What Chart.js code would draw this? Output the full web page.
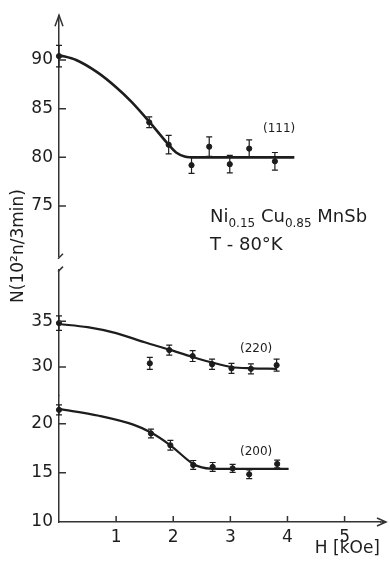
<!DOCTYPE html>
<html>
<head>
<meta charset="utf-8">
<script src="https://cdn.jsdelivr.net/npm/chart.js@4"></script>
<style>
html, body { margin: 0; padding: 0; background: #fff; }
#wrap { width: 390px; height: 561px; }
</style>
</head>
<body>
<div id="wrap"><canvas id="myChart"></canvas></div>
<script>
// field values H [kOe], counts N, error bars - (111) reflection
var h111 = [0, 1.58, 1.92, 2.32, 2.63, 2.99, 3.33, 3.78];
var n111 = [90.4, 83.6, 81.3, 79.2, 81.1, 79.3, 80.9, 79.6];
var err111 = [1.1, 0.55, 0.95, 0.85, 1.0, 0.9, 0.9, 0.9];
var fitH111 = [0, 0.3, 0.68, 1.0, 1.27, 1.59, 1.92, 2.05, 2.2, 2.4, 4.12];
var fitN111 = [90.5, 90.0, 88.7, 87.2, 85.7, 83.6, 81.3, 80.5, 80.1, 80.0, 80.0];

// (220) reflection
var h220 = [0, 1.59, 1.93, 2.34, 2.68, 3.02, 3.36, 3.81];
var n220 = [34.8, 30.4, 31.85, 31.2, 30.3, 29.85, 29.8, 30.2];
var err220 = [0.8, 0.65, 0.55, 0.6, 0.55, 0.55, 0.55, 0.65];
var fitH220 = [0, 0.5, 1.0, 1.5, 1.93, 2.34, 2.68, 3.02, 3.36, 3.81];
var fitN220 = [34.7, 34.35, 33.7, 32.7, 31.9, 31.1, 30.5, 30.0, 29.85, 29.8];

// (200) reflection
var h200 = [0, 1.61, 1.95, 2.35, 2.69, 3.04, 3.33, 3.82];
var n200 = [21.4, 19.0, 17.8, 15.8, 15.6, 15.45, 14.85, 15.9];
var err200 = [0.5, 0.45, 0.5, 0.45, 0.45, 0.4, 0.45, 0.4];
var fitH200 = [0, 0.7, 1.3, 1.61, 1.95, 2.35, 2.5, 2.65, 3.0, 4.02];
var fitN200 = [21.5, 20.8, 19.9, 19.1, 17.8, 15.9, 15.55, 15.42, 15.4, 15.4];

// tick labels
var xTicks = [1, 2, 3, 4, 5];
var topTicks = [75, 80, 85, 90];
var midTicks = [30, 35];
var lowTicks = [10, 15, 20];

var ink = '#1d1d1d';
var font = 'DejaVu Sans';

function pts(xs, ys) {
    var res = [];
    for (let i = 0; i < xs.length; i++) {
        res.push({ x: xs[i], y: ys[i] });
    }
    return res;
}

function fixTicks(list) {
    return function (scale) {
        scale.ticks = list.map(function (v) { return { value: v }; });
    };
}

function pointSet(xs, ys, errs, axis) {
    return {
        data: pts(xs, ys),
        errors: errs,
        yAxisID: axis,
        showLine: false,
        pointRadius: 2.6,
        pointBackgroundColor: ink,
        pointBorderColor: ink,
        clip: false
    };
}

function fitSet(xs, ys, axis, w) {
    return {
        data: pts(xs, ys),
        yAxisID: axis,
        showLine: true,
        borderColor: ink,
        borderWidth: w,
        pointRadius: 0,
        cubicInterpolationMode: 'monotone',
        clip: false
    };
}

function yScale(min, max, weight, order, ticks) {
    return {
        type: 'linear',
        position: 'left',
        stack: 'n',
        stackWeight: weight,
        weight: order,
        min: min,
        max: max,
        afterBuildTicks: fixTicks(ticks),
        afterFit: function (s) { s.width = 59; },
        grid: { display: false, drawTicks: false },
        border: { color: '#333', width: 1.5 },
        ticks: { color: ink, padding: 6, font: { family: font, size: 17 } }
    };
}

// error bars, inward ticks, arrows, axis break and labels
const decorPlugin = {
    id: 'decor',
    afterDatasetsDraw(chart) {
        const ctx = chart.ctx;
        ctx.save();
        ctx.strokeStyle = ink;
        ctx.lineWidth = 1.2;
        chart.data.datasets.forEach(function (ds, di) {
            if (!ds.errors) return;
            const meta = chart.getDatasetMeta(di);
            const ys = chart.scales[ds.yAxisID];
            meta.data.forEach(function (el, i) {
                const v = ds.data[i].y;
                const t = ys.getPixelForValue(v + ds.errors[i]);
                const b = ys.getPixelForValue(v - ds.errors[i]);
                ctx.beginPath();
                ctx.moveTo(el.x, t); ctx.lineTo(el.x, b);
                ctx.moveTo(el.x - 3, t); ctx.lineTo(el.x + 3, t);
                ctx.moveTo(el.x - 3, b); ctx.lineTo(el.x + 3, b);
                ctx.stroke();
            });
        });
        ctx.restore();
    },
    afterDraw(chart) {
        const ctx = chart.ctx;
        const area = chart.chartArea;
        const xs = chart.scales.x;
        const ax = area.left;
        ctx.save();
        ctx.strokeStyle = '#333';
        ctx.lineWidth = 1.5;

        // inward tick marks
        ctx.beginPath();
        ['yTop', 'yMid', 'yLow'].forEach(function (id) {
            const s = chart.scales[id];
            s.ticks.forEach(function (t) {
                if (t.value == 10) return;
                const p = s.getPixelForValue(t.value);
                ctx.moveTo(ax, p); ctx.lineTo(ax + 7, p);
            });
        });
        xs.ticks.forEach(function (t) {
            const p = xs.getPixelForValue(t.value);
            ctx.moveTo(p, area.bottom); ctx.lineTo(p, area.bottom - 6);
        });
        ctx.stroke();

        // arrows
        ctx.beginPath();
        ctx.moveTo(ax - 4, area.top + 10); ctx.lineTo(ax, area.top - 1); ctx.lineTo(ax + 4, area.top + 10);
        ctx.moveTo(area.right, area.bottom); ctx.lineTo(area.right + 6, area.bottom);
        ctx.moveTo(area.right - 3, area.bottom - 4); ctx.lineTo(area.right + 6, area.bottom); ctx.lineTo(area.right - 3, area.bottom + 4);
        ctx.stroke();

        // axis break
        const gap = chart.scales.yGap;
        ctx.beginPath();
        ctx.moveTo(ax - 1, gap.top + 2); ctx.lineTo(ax + 4, gap.top - 3);
        ctx.moveTo(ax - 1, gap.bottom + 2); ctx.lineTo(ax + 4, gap.bottom - 3);
        ctx.stroke();

        // y title
        ctx.fillStyle = ink;
        ctx.save();
        ctx.translate(19, 246);
        ctx.rotate(-Math.PI / 2);
        ctx.font = '17px "' + font + '"';
        ctx.textAlign = 'center';
        ctx.textBaseline = 'middle';
        ctx.fillText('N(10²n/3min)', 0, 0);
        ctx.restore();

        // reflection labels
        ctx.textAlign = 'left';
        ctx.textBaseline = 'alphabetic';
        ctx.font = '12px "' + font + '"';
        ctx.fillText('(111)', 263, 132);
        ctx.fillText('(220)', 240, 352);
        ctx.fillText('(200)', 240, 455);

        // sample label
        let x = 210;
        const parts = [['Ni', 0], ['0.15', 1], [' Cu', 0], ['0.85', 1], [' MnSb', 0]];
        parts.forEach(function (p) {
            ctx.font = (p[1] ? '12px' : '18px') + ' "' + font + '"';
            ctx.fillText(p[0], x, p[1] ? 227 : 222);
            x += ctx.measureText(p[0]).width;
        });
        ctx.font = '18px "' + font + '"';
        ctx.fillText('T - 80°K', 210, 250);
        ctx.restore();
    }
};

const ctx = document.getElementById('myChart').getContext('2d');
const myChart = new Chart(ctx, {
    type: 'scatter',
    data: {
        datasets: [
            fitSet(fitH111, fitN111, 'yTop', 2.6),
            fitSet(fitH220, fitN220, 'yMid', 2.2),
            fitSet(fitH200, fitN200, 'yLow', 2.2),
            pointSet(h111, n111, err111, 'yTop'),
            pointSet(h220, n220, err220, 'yMid'),
            pointSet(h200, n200, err200, 'yLow')
        ]
    },
    options: {
        responsive: true,
        maintainAspectRatio: false,
        animation: false,
        layout: { padding: { top: 13, right: 10, left: 0, bottom: 0 } },
        plugins: {
            legend: { display: false },
            tooltip: { enabled: false }
        },
        scales: {
            x: {
                type: 'linear',
                min: 0,
                max: 5.62,
                afterBuildTicks: fixTicks(xTicks),
                afterFit: function (s) { s.height = 39; },
                grid: { display: false, drawTicks: false },
                border: { color: '#333', width: 1.5 },
                ticks: { color: ink, padding: 5, font: { family: font, size: 17 } },
                title: {
                    display: true,
                    text: 'H [kOe]',
                    align: 'end',
                    color: ink,
                    padding: { top: 0, bottom: 2 },
                    font: { family: font, size: 17 }
                }
            },
            yTop: yScale(69.8, 94.5, 242, 4, topTicks),
            yGap: {
                type: 'linear',
                position: 'left',
                stack: 'n',
                stackWeight: 13,
                weight: 3,
                min: 0,
                max: 1,
                afterFit: function (s) { s.width = 59; },
                grid: { display: false, drawTicks: false },
                border: { display: false },
                ticks: { display: false }
            },
            yMid: yScale(26.85, 40.65, 127, 2, midTicks),
            yLow: yScale(10, 22.83, 127, 1, lowTicks)
        }
    },
    plugins: [decorPlugin]
});
</script>
</body>
</html>
